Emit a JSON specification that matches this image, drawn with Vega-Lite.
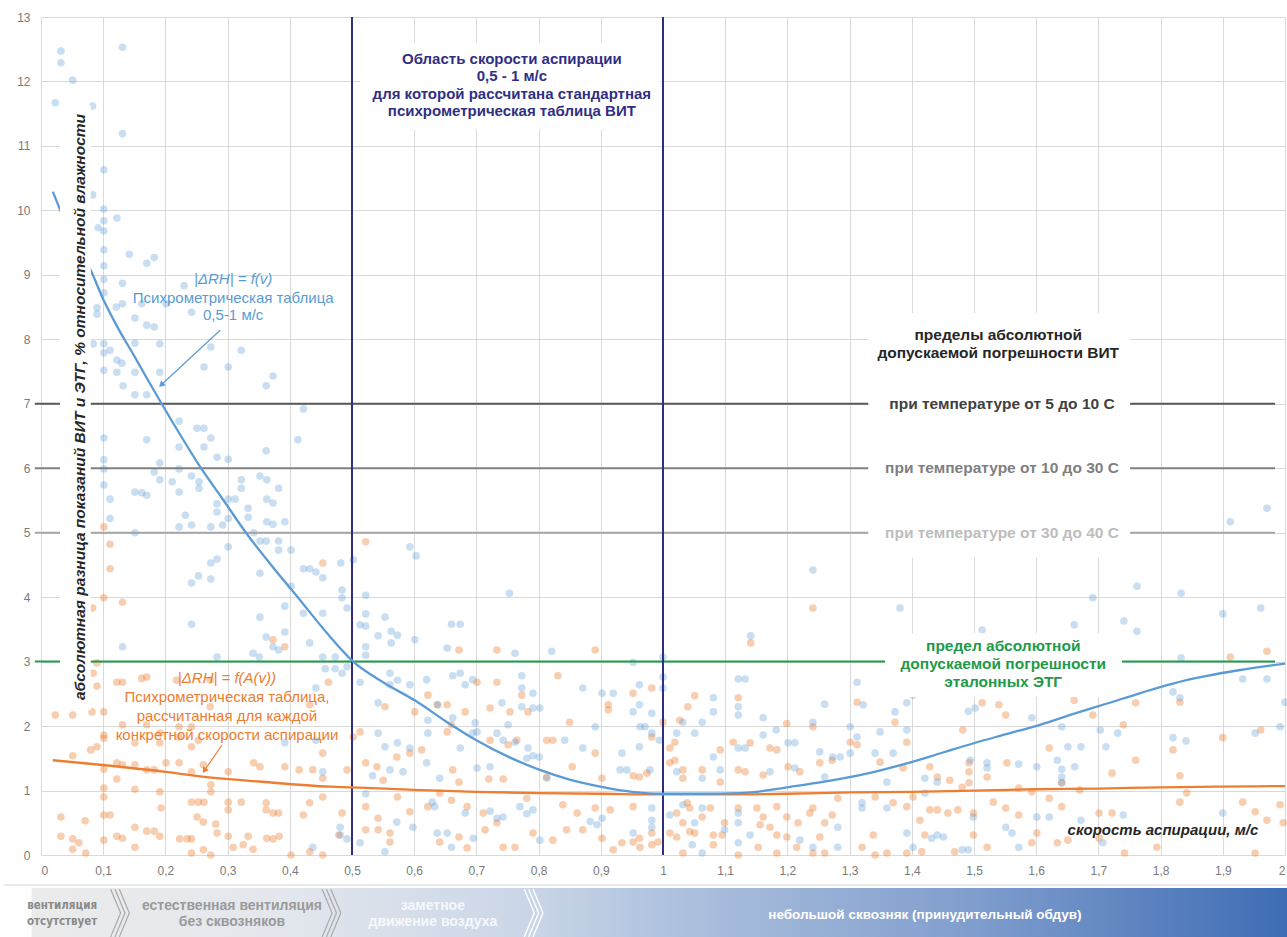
{
 "$schema": "https://vega.github.io/schema/vega-lite/v6.json",
 "width": 1244,
 "height": 838,
 "autosize": "none",
 "padding": {"left": 41, "top": 17, "right": 2, "bottom": 82},
 "background": "white",
 "config": {"view": {"stroke": null}, "font": "Liberation Sans"},
 "datasets": {
  "blue": [
   {"x":0.023,"y":11.67},{"x":0.032,"y":12.47},{"x":0.032,"y":12.29},{"x":0.051,"y":12.02},{"x":0.083,"y":11.62},{"x":0.131,"y":12.53},{"x":0.131,"y":11.19},{"x":0.101,"y":10.63},{"x":0.083,"y":10.24},{"x":0.101,"y":10.02},{"x":0.101,"y":9.84},{"x":0.122,"y":9.88},{"x":0.092,"y":9.73},{"x":0.101,"y":9.68},{"x":0.101,"y":9.39},{"x":0.142,"y":9.32},{"x":0.170,"y":9.18},{"x":0.182,"y":9.27},{"x":0.101,"y":9.14},{"x":0.101,"y":8.93},{"x":0.131,"y":8.87},{"x":0.230,"y":8.83},{"x":0.101,"y":8.72},{"x":0.090,"y":8.49},{"x":0.090,"y":8.39},{"x":0.131,"y":8.55},{"x":0.121,"y":8.50},{"x":0.162,"y":8.55},{"x":0.151,"y":8.33},{"x":0.201,"y":8.55},{"x":0.242,"y":8.42},{"x":0.170,"y":8.22},{"x":0.182,"y":8.19},
   {"x":0.084,"y":7.93},{"x":0.101,"y":7.93},{"x":0.101,"y":7.79},{"x":0.111,"y":7.83},{"x":0.122,"y":7.68},{"x":0.130,"y":7.63},{"x":0.122,"y":7.49},{"x":0.101,"y":7.52},{"x":0.151,"y":7.94},{"x":0.151,"y":7.49},{"x":0.132,"y":7.28},{"x":0.151,"y":7.14},{"x":0.170,"y":7.14},{"x":0.191,"y":7.93},{"x":0.191,"y":7.49},{"x":0.273,"y":7.88},{"x":0.262,"y":7.57},{"x":0.301,"y":7.57},{"x":0.322,"y":7.83},{"x":0.362,"y":7.28},{"x":0.373,"y":7.43},{"x":0.422,"y":6.92},{"x":0.222,"y":6.73},{"x":0.251,"y":6.62},{"x":0.262,"y":6.62},{"x":0.273,"y":6.47},{"x":0.170,"y":6.44},{"x":0.101,"y":6.47},{"x":0.222,"y":6.33},{"x":0.262,"y":6.33},{"x":0.283,"y":6.17},{"x":0.301,"y":6.14},{"x":0.362,"y":6.27},{"x":0.413,"y":6.44},{"x":0.101,"y":6.13},{"x":0.101,"y":5.99},{"x":0.191,"y":6.08},{"x":0.182,"y":5.94},{"x":0.191,"y":5.82},{"x":0.211,"y":5.79},{"x":0.222,"y":5.99},{"x":0.242,"y":5.88},{"x":0.254,"y":5.79},{"x":0.254,"y":5.69},{"x":0.322,"y":5.82},{"x":0.322,"y":5.69},{"x":0.352,"y":5.88},{"x":0.363,"y":5.82},{"x":0.382,"y":5.69},{"x":0.101,"y":5.74},{"x":0.151,"y":5.63},{"x":0.162,"y":5.62},{"x":0.170,"y":5.58},{"x":0.111,"y":5.52},{"x":0.222,"y":5.63},{"x":0.283,"y":5.45},{"x":0.283,"y":5.32},{"x":0.301,"y":5.52},{"x":0.312,"y":5.52},{"x":0.363,"y":5.52},{"x":0.373,"y":5.46},{"x":0.232,"y":5.27},{"x":0.111,"y":5.22},{"x":0.301,"y":5.22},{"x":0.333,"y":5.38},{"x":0.333,"y":5.24},{"x":0.363,"y":5.17},{"x":0.373,"y":5.13},{"x":0.392,"y":5.17},{"x":0.222,"y":5.09},{"x":0.242,"y":5.12},{"x":0.273,"y":5.09},{"x":0.292,"y":5.12},{"x":0.342,"y":5.0},{"x":0.151,"y":5.0},{"x":0.352,"y":4.87},{"x":0.362,"y":4.87},{"x":0.382,"y":4.87},{"x":0.382,"y":4.73},{"x":0.402,"y":4.73},{"x":0.301,"y":4.78},{"x":0.273,"y":4.53},{"x":0.283,"y":4.59},{"x":0.422,"y":4.44},{"x":0.432,"y":4.44},{"x":0.442,"y":4.39},{"x":0.453,"y":4.30},{"x":0.352,"y":4.37},{"x":0.402,"y":4.17},{"x":0.253,"y":4.33},{"x":0.242,"y":4.22},{"x":0.273,"y":4.28},
   {"x":0.242,"y":3.58},{"x":0.131,"y":3.23},{"x":0.352,"y":3.69},{"x":0.392,"y":3.86},{"x":0.392,"y":3.46},{"x":0.422,"y":3.75},{"x":0.453,"y":3.75},{"x":0.362,"y":3.38},{"x":0.373,"y":3.23},{"x":0.382,"y":3.18},{"x":0.341,"y":3.13},{"x":0.351,"y":3.07},{"x":0.432,"y":3.29},{"x":0.453,"y":3.07},{"x":0.283,"y":3.07},{"x":0.442,"y":2.59},{"x":0.457,"y":2.89},{"x":0.392,"y":1.74},{"x":0.442,"y":1.78},{"x":0.453,"y":1.29},{"x":0.437,"y":0.12},
   {"x":0.593,"y":4.78},{"x":0.603,"y":4.64},{"x":0.502,"y":4.58},{"x":0.482,"y":4.53},{"x":0.484,"y":4.11},{"x":0.484,"y":3.99},{"x":0.492,"y":3.83},{"x":0.522,"y":4.03},{"x":0.522,"y":3.74},{"x":0.513,"y":3.57},{"x":0.522,"y":3.55},{"x":0.542,"y":3.40},{"x":0.553,"y":3.69},{"x":0.563,"y":3.47},{"x":0.573,"y":3.41},{"x":0.601,"y":3.34},{"x":0.563,"y":3.29},{"x":0.522,"y":3.23},{"x":0.522,"y":3.10},{"x":0.653,"y":3.21},{"x":0.660,"y":3.58},{"x":0.674,"y":3.58},{"x":0.753,"y":4.06},{"x":0.762,"y":3.13},{"x":0.821,"y":3.16},{"x":0.473,"y":3.07},{"x":0.473,"y":2.89},{"x":0.484,"y":2.82},{"x":0.492,"y":2.92},{"x":0.513,"y":2.68},{"x":0.561,"y":2.82},{"x":0.573,"y":2.71},{"x":0.561,"y":2.64},{"x":0.593,"y":2.64},{"x":0.620,"y":2.72},{"x":0.662,"y":2.78},{"x":0.674,"y":2.82},{"x":0.682,"y":2.64},{"x":0.694,"y":2.72},{"x":0.773,"y":2.78},{"x":0.773,"y":2.59},{"x":0.791,"y":2.51},{"x":0.871,"y":2.59},{"x":0.902,"y":2.51},{"x":0.920,"y":2.51},{"x":0.952,"y":2.99},{"x":0.962,"y":2.64},{"x":0.952,"y":2.22},{"x":0.962,"y":2.33},{"x":0.982,"y":2.20},{"x":1.0,"y":3.07},{"x":1.0,"y":2.76},{"x":1.0,"y":2.59},{"x":0.542,"y":2.36},{"x":0.622,"y":2.09},{"x":0.638,"y":2.33},{"x":0.662,"y":2.13},{"x":0.698,"y":2.05},{"x":0.701,"y":1.91},{"x":0.741,"y":2.36},{"x":0.751,"y":2.02},{"x":0.773,"y":2.30},{"x":0.791,"y":2.28},{"x":0.802,"y":2.28},{"x":0.542,"y":1.89},{"x":0.553,"y":1.68},{"x":0.573,"y":1.74},{"x":0.593,"y":1.66},{"x":0.622,"y":1.89},{"x":0.674,"y":1.66},{"x":0.694,"y":1.89},{"x":0.733,"y":1.89},{"x":0.743,"y":1.78},{"x":0.762,"y":1.75},{"x":0.783,"y":1.66},{"x":0.801,"y":1.52},{"x":0.842,"y":1.78},{"x":0.871,"y":1.66},{"x":0.891,"y":1.99},{"x":0.934,"y":1.58},{"x":0.962,"y":1.68},{"x":0.982,"y":1.89},{"x":0.994,"y":1.78},{"x":0.533,"y":1.23},{"x":0.522,"y":0.95},{"x":0.561,"y":1.32},{"x":0.582,"y":1.29},{"x":0.620,"y":1.43},{"x":0.641,"y":1.19},{"x":0.701,"y":1.35},{"x":0.722,"y":1.37},{"x":0.781,"y":1.50},{"x":0.791,"y":1.54},{"x":0.813,"y":1.19},{"x":0.722,"y":0.68},{"x":0.733,"y":0.57},{"x":0.743,"y":0.59},{"x":0.770,"y":0.75},{"x":0.781,"y":0.64},{"x":0.791,"y":0.70},{"x":0.883,"y":0.52},{"x":0.894,"y":0.47},{"x":0.902,"y":0.57},{"x":0.931,"y":1.32},{"x":0.942,"y":1.32},{"x":0.979,"y":1.32},{"x":0.982,"y":0.73},{"x":0.952,"y":0.34},{"x":0.629,"y":0.82},{"x":0.633,"y":0.75},{"x":0.682,"y":0.65},{"x":0.637,"y":0.34},{"x":0.653,"y":0.34},{"x":0.660,"y":0.12},{"x":0.695,"y":0.26},{"x":0.802,"y":0.23},{"x":0.598,"y":0.43},{"x":0.572,"y":0.51},{"x":0.553,"y":0.05},{"x":0.481,"y":0.31},{"x":0.492,"y":0.25},{"x":0.481,"y":0.43},{"x":0.513,"y":0.19},
   {"x":1.241,"y":4.42},{"x":1.381,"y":3.83},{"x":1.141,"y":3.40},{"x":1.121,"y":2.73},{"x":1.132,"y":2.73},{"x":1.312,"y":2.68},{"x":1.402,"y":2.48},{"x":1.392,"y":2.36},{"x":1.260,"y":2.34},{"x":1.081,"y":2.44},{"x":1.081,"y":2.22},{"x":1.121,"y":2.30},{"x":1.121,"y":2.17},{"x":1.161,"y":2.13},{"x":1.241,"y":2.06},{"x":1.322,"y":2.33},{"x":1.373,"y":2.22},{"x":1.063,"y":2.06},{"x":1.032,"y":2.06},{"x":0.963,"y":1.99},{"x":0.971,"y":1.99},{"x":1.022,"y":1.89},{"x":1.051,"y":1.89},{"x":1.161,"y":1.86},{"x":1.182,"y":1.94},{"x":1.201,"y":1.74},{"x":1.212,"y":1.74},{"x":1.301,"y":1.99},{"x":1.312,"y":1.83},{"x":1.349,"y":1.91},{"x":1.392,"y":1.94},{"x":1.121,"y":1.66},{"x":1.132,"y":1.66},{"x":1.081,"y":1.52},{"x":1.092,"y":1.32},{"x":1.252,"y":1.60},{"x":1.273,"y":1.52},{"x":1.285,"y":1.52},{"x":1.301,"y":1.58},{"x":1.341,"y":1.58},{"x":1.370,"y":1.58},{"x":1.022,"y":1.29},{"x":1.063,"y":1.19},{"x":1.172,"y":1.29},{"x":1.212,"y":1.35},{"x":1.260,"y":1.21},{"x":1.360,"y":1.13},{"x":1.421,"y":1.19},{"x":1.441,"y":1.13},{"x":1.011,"y":0.62},{"x":1.032,"y":0.78},{"x":1.063,"y":0.73},{"x":0.982,"y":0.54},{"x":0.982,"y":0.43},{"x":1.051,"y":0.50},{"x":1.099,"y":0.39},{"x":1.121,"y":0.65},{"x":1.121,"y":0.50},{"x":1.140,"y":0.31},{"x":1.121,"y":0.19},{"x":1.047,"y":0.16},{"x":1.063,"y":0.03},{"x":1.220,"y":0.23},{"x":1.241,"y":0.12},{"x":1.281,"y":0.43},{"x":1.281,"y":0.12},{"x":1.320,"y":0.81},{"x":1.320,"y":0.73},{"x":1.360,"y":0.73},{"x":1.392,"y":0.34},{"x":1.402,"y":0.12},{"x":1.432,"y":0.26},{"x":1.441,"y":0.31},{"x":1.451,"y":0.28},{"x":1.421,"y":0.96},{"x":1.481,"y":0.08},{"x":1.491,"y":0.08},
   {"x":1.912,"y":5.17},{"x":1.971,"y":5.38},{"x":1.762,"y":4.17},{"x":1.833,"y":4.06},{"x":1.691,"y":3.99},{"x":1.900,"y":3.74},{"x":1.961,"y":3.83},{"x":1.661,"y":3.57},{"x":1.741,"y":3.63},{"x":1.762,"y":3.47},{"x":1.513,"y":3.49},{"x":1.833,"y":3.06},{"x":1.932,"y":2.73},{"x":1.971,"y":2.73},{"x":2.0,"y":2.37},{"x":1.491,"y":2.23},{"x":1.502,"y":2.28},{"x":1.820,"y":2.53},{"x":1.831,"y":2.44},{"x":1.593,"y":2.13},{"x":1.641,"y":1.99},{"x":1.703,"y":1.94},{"x":1.731,"y":1.89},{"x":1.952,"y":1.89},{"x":1.992,"y":1.99},{"x":1.820,"y":1.82},{"x":1.841,"y":1.77},{"x":1.651,"y":1.68},{"x":1.672,"y":1.68},{"x":1.712,"y":1.68},{"x":1.494,"y":1.47},{"x":1.521,"y":1.43},{"x":1.572,"y":1.41},{"x":1.521,"y":1.35},{"x":1.634,"y":1.47},{"x":1.601,"y":1.37},{"x":1.662,"y":1.37},{"x":1.641,"y":1.33},{"x":1.641,"y":1.21},{"x":1.641,"y":1.12},{"x":1.499,"y":0.59},{"x":1.601,"y":0.59},{"x":1.621,"y":0.59},{"x":1.740,"y":0.62},{"x":1.900,"y":0.65},{"x":1.561,"y":0.34},{"x":1.551,"y":0.43},{"x":1.672,"y":0.54},{"x":1.572,"y":0.12},{"x":1.707,"y":0.19}
  ],
  "orange": [
   {"x":0.101,"y":5.09},{"x":0.111,"y":4.82},{"x":0.111,"y":4.44},{"x":0.453,"y":4.53},
   {"x":0.101,"y":3.99},{"x":0.131,"y":3.92},{"x":0.083,"y":3.83},{"x":0.373,"y":3.34},{"x":0.392,"y":3.23},{"x":0.090,"y":2.98},{"x":0.084,"y":2.82},{"x":0.090,"y":2.62},{"x":0.122,"y":2.68},{"x":0.131,"y":2.68},{"x":0.162,"y":2.74},{"x":0.170,"y":2.76},{"x":0.218,"y":2.71},{"x":0.272,"y":2.71},{"x":0.023,"y":2.17},{"x":0.051,"y":2.17},{"x":0.082,"y":2.22},{"x":0.101,"y":2.22},{"x":0.131,"y":2.02},{"x":0.170,"y":2.02},{"x":0.191,"y":1.89},{"x":0.222,"y":1.99},{"x":0.242,"y":1.99},{"x":0.272,"y":2.30},{"x":0.101,"y":1.86},{"x":0.101,"y":1.81},{"x":0.151,"y":1.74},{"x":0.191,"y":1.74},{"x":0.222,"y":1.83},{"x":0.242,"y":1.68},{"x":0.253,"y":1.78},{"x":0.051,"y":1.54},{"x":0.080,"y":1.63},{"x":0.090,"y":1.68},{"x":0.122,"y":1.43},{"x":0.131,"y":1.40},{"x":0.151,"y":1.40},{"x":0.170,"y":1.32},{"x":0.182,"y":1.32},{"x":0.201,"y":1.43},{"x":0.222,"y":1.43},{"x":0.242,"y":1.29},{"x":0.261,"y":1.40},{"x":0.301,"y":1.29},{"x":0.342,"y":1.43},{"x":0.352,"y":1.37},{"x":0.392,"y":1.37},{"x":0.415,"y":1.32},{"x":0.101,"y":1.33},{"x":0.101,"y":1.04},{"x":0.101,"y":0.90},{"x":0.122,"y":1.18},{"x":0.151,"y":1.02},{"x":0.191,"y":0.98},{"x":0.242,"y":0.82},{"x":0.253,"y":0.82},{"x":0.262,"y":0.82},{"x":0.273,"y":0.98},{"x":0.273,"y":1.09},{"x":0.301,"y":0.82},{"x":0.322,"y":0.82},{"x":0.362,"y":0.81},{"x":0.362,"y":0.70},{"x":0.373,"y":0.65},{"x":0.382,"y":0.65},{"x":0.422,"y":0.62},{"x":0.432,"y":0.81},{"x":0.111,"y":0.62},{"x":0.101,"y":0.62},{"x":0.032,"y":0.59},{"x":0.071,"y":0.53},{"x":0.193,"y":0.73},{"x":0.251,"y":0.59},{"x":0.261,"y":0.51},{"x":0.281,"y":0.48},{"x":0.301,"y":0.70},{"x":0.283,"y":0.34},{"x":0.301,"y":0.29},{"x":0.333,"y":0.29},{"x":0.363,"y":0.26},{"x":0.383,"y":0.29},{"x":0.151,"y":0.43},{"x":0.170,"y":0.37},{"x":0.182,"y":0.37},{"x":0.191,"y":0.29},{"x":0.122,"y":0.29},{"x":0.131,"y":0.26},{"x":0.032,"y":0.29},{"x":0.051,"y":0.25},{"x":0.061,"y":0.19},{"x":0.101,"y":0.23},{"x":0.151,"y":0.12},{"x":0.223,"y":0.25},{"x":0.235,"y":0.25},{"x":0.242,"y":0.25},{"x":0.261,"y":0.08},{"x":0.309,"y":0.12},{"x":0.325,"y":0.16},{"x":0.341,"y":0.09},{"x":0.373,"y":0.25},{"x":0.402,"y":0.0},{"x":0.432,"y":0.05},{"x":0.453,"y":0.0},{"x":0.051,"y":0.09},{"x":0.072,"y":0.03},{"x":0.242,"y":0.03},{"x":0.273,"y":0.0},{"x":0.453,"y":0.90},{"x":0.453,"y":1.19},{"x":0.453,"y":1.58},{"x":0.432,"y":2.33},
   {"x":0.522,"y":4.86},{"x":0.672,"y":3.18},{"x":0.733,"y":3.18},{"x":0.891,"y":3.18},{"x":0.831,"y":2.78},{"x":0.462,"y":2.68},{"x":0.622,"y":2.48},{"x":0.701,"y":2.68},{"x":0.733,"y":2.68},{"x":0.773,"y":2.48},{"x":0.952,"y":2.51},{"x":0.982,"y":2.59},{"x":0.553,"y":2.30},{"x":0.637,"y":2.33},{"x":0.653,"y":2.33},{"x":0.601,"y":2.22},{"x":0.682,"y":2.22},{"x":0.722,"y":2.28},{"x":0.754,"y":2.22},{"x":0.783,"y":2.22},{"x":0.912,"y":2.33},{"x":0.912,"y":2.25},{"x":0.982,"y":1.83},{"x":1.011,"y":1.66},{"x":1.027,"y":2.09},{"x":0.502,"y":1.83},{"x":0.513,"y":1.91},{"x":0.492,"y":1.32},{"x":0.522,"y":1.43},{"x":0.437,"y":1.32},{"x":0.572,"y":1.52},{"x":0.593,"y":1.58},{"x":0.612,"y":1.63},{"x":0.653,"y":1.91},{"x":0.660,"y":2.02},{"x":0.722,"y":1.78},{"x":0.751,"y":1.71},{"x":0.765,"y":1.78},{"x":0.813,"y":1.78},{"x":0.823,"y":1.78},{"x":0.850,"y":2.06},{"x":0.891,"y":1.58},{"x":1.032,"y":1.32},{"x":0.540,"y":1.37},{"x":0.662,"y":1.32},{"x":0.550,"y":1.16},{"x":0.672,"y":1.13},{"x":0.720,"y":1.18},{"x":0.743,"y":1.18},{"x":0.813,"y":1.21},{"x":0.854,"y":1.37},{"x":0.902,"y":1.19},{"x":0.952,"y":1.23},{"x":0.962,"y":1.21},{"x":0.974,"y":1.27},{"x":1.011,"y":1.43},{"x":0.522,"y":0.75},{"x":0.573,"y":0.90},{"x":0.622,"y":0.75},{"x":0.641,"y":0.96},{"x":0.660,"y":0.85},{"x":0.685,"y":0.75},{"x":0.711,"y":0.65},{"x":0.781,"y":0.88},{"x":0.839,"y":0.78},{"x":0.862,"y":0.65},{"x":0.891,"y":0.73},{"x":0.915,"y":0.70},{"x":0.952,"y":0.75},{"x":1.022,"y":0.65},{"x":1.039,"y":0.81},{"x":0.484,"y":0.65},{"x":0.542,"y":0.57},{"x":0.593,"y":0.67},{"x":0.479,"y":0.31},{"x":0.522,"y":0.39},{"x":0.542,"y":0.39},{"x":0.561,"y":0.20},{"x":0.561,"y":0.34},{"x":0.641,"y":0.20},{"x":0.672,"y":0.28},{"x":0.685,"y":0.11},{"x":0.714,"y":0.39},{"x":0.733,"y":0.50},{"x":0.743,"y":0.12},{"x":0.762,"y":0.12},{"x":0.791,"y":0.34},{"x":0.823,"y":0.23},{"x":0.845,"y":0.39},{"x":0.871,"y":0.39},{"x":0.902,"y":0.26},{"x":0.920,"y":0.08},{"x":0.934,"y":0.19},{"x":0.952,"y":0.20},{"x":0.962,"y":0.26},{"x":0.982,"y":0.34},{"x":0.982,"y":0.16},{"x":0.992,"y":0.20},{"x":1.011,"y":0.34},{"x":1.032,"y":0.50},{"x":1.043,"y":0.36},{"x":1.022,"y":0.28},
   {"x":1.241,"y":3.83},{"x":1.141,"y":3.29},{"x":1.051,"y":2.47},{"x":1.040,"y":2.30},{"x":1.121,"y":2.44},{"x":1.0,"y":2.06},{"x":1.312,"y":2.37},{"x":1.373,"y":2.06},{"x":1.241,"y":1.99},{"x":1.199,"y":2.04},{"x":1.301,"y":1.75},{"x":1.312,"y":1.71},{"x":1.392,"y":1.75},{"x":1.349,"y":1.44},{"x":1.113,"y":1.75},{"x":1.092,"y":1.63},{"x":1.019,"y":1.75},{"x":1.019,"y":1.47},{"x":1.140,"y":1.74},{"x":1.172,"y":1.66},{"x":1.183,"y":1.63},{"x":1.252,"y":1.43},{"x":1.272,"y":1.47},{"x":1.220,"y":1.29},{"x":1.201,"y":1.37},{"x":1.161,"y":1.24},{"x":1.121,"y":1.32},{"x":1.132,"y":1.29},{"x":1.063,"y":1.32},{"x":1.092,"y":1.13},{"x":1.032,"y":1.19},{"x":1.386,"y":1.35},{"x":1.429,"y":1.37},{"x":1.461,"y":1.16},{"x":1.481,"y":1.05},{"x":1.441,"y":1.21},{"x":1.281,"y":0.88},{"x":1.241,"y":0.73},{"x":1.272,"y":0.62},{"x":1.341,"y":0.90},{"x":1.370,"y":0.81},{"x":1.392,"y":0.75},{"x":1.402,"y":0.90},{"x":1.413,"y":0.54},{"x":1.429,"y":0.70},{"x":1.441,"y":0.70},{"x":1.458,"y":0.65},{"x":1.474,"y":0.70},{"x":1.043,"y":0.73},{"x":1.063,"y":0.59},{"x":1.076,"y":0.73},{"x":1.099,"y":0.50},{"x":1.121,"y":0.73},{"x":1.151,"y":0.73},{"x":1.161,"y":0.59},{"x":1.183,"y":0.75},{"x":1.199,"y":0.59},{"x":1.236,"y":0.65},{"x":1.217,"y":0.50},{"x":1.260,"y":0.50},{"x":1.156,"y":0.47},{"x":1.172,"y":0.43},{"x":1.051,"y":0.34},{"x":1.081,"y":0.31},{"x":1.095,"y":0.31},{"x":1.183,"y":0.31},{"x":1.199,"y":0.28},{"x":1.252,"y":0.28},{"x":1.338,"y":0.31},{"x":1.421,"y":0.31},{"x":0.963,"y":0.12},{"x":1.032,"y":0.03},{"x":1.081,"y":0.16},{"x":1.121,"y":0.0},{"x":1.153,"y":0.12},{"x":1.183,"y":0.03},{"x":1.215,"y":0.12},{"x":1.241,"y":0.03},{"x":1.260,"y":0.03},{"x":1.320,"y":0.12},{"x":1.341,"y":0.0},{"x":1.360,"y":0.03},{"x":1.392,"y":0.03},{"x":1.416,"y":0.05},{"x":1.469,"y":0.05},
   {"x":1.971,"y":3.16},{"x":1.912,"y":3.07},{"x":1.661,"y":2.40},{"x":1.513,"y":2.36},{"x":1.540,"y":2.33},{"x":1.551,"y":2.17},{"x":1.760,"y":2.36},{"x":1.691,"y":2.17},{"x":1.740,"y":2.02},{"x":1.831,"y":2.37},{"x":1.961,"y":1.94},{"x":1.482,"y":1.94},{"x":1.621,"y":1.66},{"x":1.820,"y":1.63},{"x":1.900,"y":1.82},{"x":1.760,"y":1.47},{"x":1.722,"y":1.27},{"x":1.831,"y":1.23},{"x":1.553,"y":1.43},{"x":1.492,"y":1.43},{"x":1.492,"y":1.29},{"x":1.521,"y":1.21},{"x":1.492,"y":1.12},{"x":1.572,"y":1.04},{"x":1.593,"y":0.98},{"x":1.641,"y":1.12},{"x":1.670,"y":1.01},{"x":1.842,"y":0.96},{"x":1.932,"y":0.82},{"x":1.992,"y":0.78},{"x":1.952,"y":0.67},{"x":1.831,"y":0.82},{"x":1.531,"y":0.82},{"x":1.551,"y":0.73},{"x":1.572,"y":0.62},{"x":1.621,"y":0.88},{"x":1.641,"y":0.75},{"x":1.701,"y":0.65},{"x":1.722,"y":0.65},{"x":1.499,"y":0.65},{"x":1.499,"y":0.31},{"x":1.521,"y":0.12},{"x":1.593,"y":0.19},{"x":1.601,"y":0.34},{"x":1.634,"y":0.19},{"x":1.651,"y":0.23},{"x":1.701,"y":0.26},{"x":1.742,"y":0.03},{"x":1.794,"y":0.12},{"x":1.952,"y":0.03},{"x":1.971,"y":0.54},{"x":1.997,"y":0.50}
  ],
  "curveBlue": [
   {"x":0.019,"y":10.29},{"x":0.029,"y":10.05},{"x":0.05,"y":9.55},{"x":0.08,"y":9.07},{"x":0.1,"y":8.62},{"x":0.124,"y":8.17},{"x":0.15,"y":7.74},{"x":0.17,"y":7.4},{"x":0.194,"y":7.0},{"x":0.225,"y":6.5},{"x":0.256,"y":6.02},{"x":0.29,"y":5.55},{"x":0.331,"y":4.98},{"x":0.37,"y":4.5},{"x":0.416,"y":3.96},{"x":0.46,"y":3.44},{"x":0.502,"y":3.0},{"x":0.55,"y":2.68},{"x":0.604,"y":2.38},{"x":0.65,"y":2.08},{"x":0.7,"y":1.78},{"x":0.75,"y":1.53},{"x":0.802,"y":1.32},{"x":0.85,"y":1.17},{"x":0.899,"y":1.06},{"x":0.95,"y":0.98},{"x":1.0,"y":0.95},{"x":1.05,"y":0.95},{"x":1.124,"y":0.96},{"x":1.2,"y":1.05},{"x":1.241,"y":1.11},{"x":1.285,"y":1.18},{"x":1.34,"y":1.29},{"x":1.392,"y":1.42},{"x":1.45,"y":1.59},{"x":1.498,"y":1.73},{"x":1.55,"y":1.87},{"x":1.606,"y":2.02},{"x":1.66,"y":2.19},{"x":1.714,"y":2.35},{"x":1.77,"y":2.52},{"x":1.82,"y":2.66},{"x":1.87,"y":2.77},{"x":1.928,"y":2.87},{"x":1.97,"y":2.93},{"x":2.0,"y":2.97}
  ],
  "curveOrange": [
   {"x":0.019,"y":1.47},{"x":0.095,"y":1.4},{"x":0.2,"y":1.29},{"x":0.256,"y":1.22},{"x":0.35,"y":1.14},{"x":0.465,"y":1.06},{"x":0.5,"y":1.05},{"x":0.6,"y":1.01},{"x":0.7,"y":0.98},{"x":0.8,"y":0.96},{"x":0.9,"y":0.95},{"x":1.0,"y":0.94},{"x":1.1,"y":0.94},{"x":1.2,"y":0.95},{"x":1.3,"y":0.97},{"x":1.4,"y":0.98},{"x":1.5,"y":1.0},{"x":1.6,"y":1.02},{"x":1.7,"y":1.03},{"x":1.8,"y":1.05},{"x":1.9,"y":1.06},{"x":2.0,"y":1.07}
  ],
  "hlines": [
   {"k":"t5","y":7,"x1":-0.01,"x2":1.984},
   {"k":"t10","y":6,"x1":-0.01,"x2":1.984},
   {"k":"t30","y":5,"x1":-0.01,"x2":1.984},
   {"k":"etg","y":3,"x1":-0.01,"x2":1.984}
  ],
  "boxes": [
   {"x1":0.0305,"x2":0.080,"y1":2.25,"y2":11.63},
   {"x1":0.513,"x2":0.995,"y1":11.25,"y2":12.61},
   {"x1":1.33,"x2":1.751,"y1":4.61,"y2":8.41},
   {"x1":1.357,"x2":1.738,"y1":2.45,"y2":3.44}
  ],
  "chevrons": [
   {"c":"g","id":"1a","o":1,"x":0.112,"y":-0.53},{"c":"g","id":"1a","o":2,"x":0.128,"y":-0.9},{"c":"g","id":"1a","o":3,"x":0.112,"y":-1.27},
   {"c":"g","id":"1b","o":1,"x":0.119,"y":-0.53},{"c":"g","id":"1b","o":2,"x":0.135,"y":-0.9},{"c":"g","id":"1b","o":3,"x":0.119,"y":-1.27},
   {"c":"g","id":"1c","o":1,"x":0.126,"y":-0.53},{"c":"g","id":"1c","o":2,"x":0.142,"y":-0.9},{"c":"g","id":"1c","o":3,"x":0.126,"y":-1.27},
   {"c":"g","id":"2a","o":1,"x":0.452,"y":-0.53},{"c":"g","id":"2a","o":2,"x":0.468,"y":-0.9},{"c":"g","id":"2a","o":3,"x":0.452,"y":-1.27},
   {"c":"g","id":"2b","o":1,"x":0.459,"y":-0.53},{"c":"g","id":"2b","o":2,"x":0.475,"y":-0.9},{"c":"g","id":"2b","o":3,"x":0.459,"y":-1.27},
   {"c":"g","id":"2c","o":1,"x":0.466,"y":-0.53},{"c":"g","id":"2c","o":2,"x":0.482,"y":-0.9},{"c":"g","id":"2c","o":3,"x":0.466,"y":-1.27},
   {"c":"w","id":"3a","o":1,"x":0.777,"y":-0.53},{"c":"w","id":"3a","o":2,"x":0.793,"y":-0.9},{"c":"w","id":"3a","o":3,"x":0.777,"y":-1.27},
   {"c":"w","id":"3b","o":1,"x":0.784,"y":-0.53},{"c":"w","id":"3b","o":2,"x":0.8,"y":-0.9},{"c":"w","id":"3b","o":3,"x":0.784,"y":-1.27},
   {"c":"w","id":"3c","o":1,"x":0.791,"y":-0.53},{"c":"w","id":"3c","o":2,"x":0.807,"y":-0.9},{"c":"w","id":"3c","o":3,"x":0.791,"y":-1.27}
  ]
 },
 "layer": [
  {
   "data": {"values": [{"x1": -0.015, "x2": 2.01, "y1": -0.51, "y2": -1.32}]},
   "mark": {"type": "rect", "fill": {"gradient": "linear", "x1": 0, "y1": 0, "x2": 1, "y2": 0, "stops": [{"offset": 0, "color": "#ebebeb"}, {"offset": 0.2, "color": "#e3e7ed"}, {"offset": 0.4, "color": "#c9d5e7"}, {"offset": 0.5, "color": "#b0c3df"}, {"offset": 0.75, "color": "#7f9dcd"}, {"offset": 1, "color": "#3d6cb4"}]}},
   "encoding": {
    "x": {"field": "x1", "type": "quantitative", "scale": {"domain": [0, 2], "nice": false, "zero": false},
     "axis": {"values": [0,0.1,0.2,0.3,0.4,0.5,0.6,0.7,0.8,0.9,1,1.1,1.2,1.3,1.4,1.5,1.6,1.7,1.8,1.9,2], "labelExpr": "replace(format(datum.value, '.1~f'), '.', ',')", "title": null, "ticks": false, "domain": false, "grid": true, "gridColor": "#d9d9d9", "gridWidth": 1, "labelFont": "Liberation Sans", "labelFontSize": 12, "labelColor": "#7a7a7a", "labelPadding": 10, "labelFlush": true, "labelOverlap": false}},
    "x2": {"field": "x2"},
    "y": {"field": "y1", "type": "quantitative", "scale": {"domain": [0, 13], "nice": false, "zero": false},
     "axis": {"values": [0,1,2,3,4,5,6,7,8,9,10,11,12,13], "format": "d", "title": null, "ticks": false, "domain": false, "grid": true, "gridColor": "#d9d9d9", "gridWidth": 1, "labelFont": "Liberation Sans", "labelFontSize": 12, "labelColor": "#7a7a7a", "labelPadding": 11, "labelFlush": false, "labelOverlap": false}},
    "y2": {"field": "y2"}
   }
  },
  {
   "data": {"values": [{"x1": -0.06, "x2": 2.01, "y": -0.465}]},
   "mark": {"type": "rule", "color": "#d4d4d4", "strokeWidth": 1},
   "encoding": {"x": {"field": "x1", "type": "quantitative", "title": null}, "x2": {"field": "x2"}, "y": {"field": "y", "type": "quantitative", "title": null}}
  },
  {
   "data": {"name": "chevrons"},
   "transform": [{"filter": "datum.c === 'g'"}],
   "mark": {"type": "line", "color": "#a9a9a9", "strokeWidth": 1.2},
   "encoding": {"x": {"field": "x", "type": "quantitative", "title": null}, "y": {"field": "y", "type": "quantitative", "title": null}, "detail": {"field": "id"}, "order": {"field": "o"}}
  },
  {
   "data": {"name": "chevrons"},
   "transform": [{"filter": "datum.c === 'w'"}],
   "mark": {"type": "line", "color": "#ffffff", "strokeWidth": 1.4},
   "encoding": {"x": {"field": "x", "type": "quantitative", "title": null}, "y": {"field": "y", "type": "quantitative", "title": null}, "detail": {"field": "id"}, "order": {"field": "o"}}
  },
  {
   "data": {"values": [{"x": 0.034, "y": -0.79, "t": "вентиляция\nотсутствует"}]},
   "mark": {"type": "text", "font": "Liberation Sans Narrow, DejaVu Sans Condensed, Liberation Sans", "fontWeight": "bold", "fontSize": 11.5, "color": "#8a8a8a", "lineBreak": "\n", "lineHeight": 16.5, "align": "center", "baseline": "middle"},
   "encoding": {"x": {"field": "x", "type": "quantitative", "title": null}, "y": {"field": "y", "type": "quantitative", "title": null}, "text": {"field": "t"}}
  },
  {
   "data": {"values": [{"x": 0.307, "y": -0.79, "t": "естественная вентиляция\nбез сквозняков"}]},
   "mark": {"type": "text", "fontWeight": "bold", "fontSize": 14, "color": "#9a9a9a", "lineBreak": "\n", "lineHeight": 16.5, "align": "center", "baseline": "middle"},
   "encoding": {"x": {"field": "x", "type": "quantitative", "title": null}, "y": {"field": "y", "type": "quantitative", "title": null}, "text": {"field": "t"}}
  },
  {
   "data": {"values": [{"x": 0.63, "y": -0.79, "t": "заметное\nдвижение воздуха"}]},
   "mark": {"type": "text", "fontWeight": "bold", "fontSize": 14, "color": "#f6f8fc", "lineBreak": "\n", "lineHeight": 16.5, "align": "center", "baseline": "middle"},
   "encoding": {"x": {"field": "x", "type": "quantitative", "title": null}, "y": {"field": "y", "type": "quantitative", "title": null}, "text": {"field": "t"}}
  },
  {
   "data": {"values": [{"x": 1.421, "y": -0.93, "t": "небольшой сквозняк (принудительный обдув)"}]},
   "mark": {"type": "text", "fontWeight": "bold", "fontSize": 13.5, "color": "#ffffff", "align": "center", "baseline": "middle"},
   "encoding": {"x": {"field": "x", "type": "quantitative", "title": null}, "y": {"field": "y", "type": "quantitative", "title": null}, "text": {"field": "t"}}
  },
  {
   "data": {"name": "orange"},
   "mark": {"type": "circle", "color": "#ed7d31", "opacity": 0.38, "size": 58},
   "encoding": {"x": {"field": "x", "type": "quantitative", "title": null}, "y": {"field": "y", "type": "quantitative", "title": null}}
  },
  {
   "data": {"name": "blue"},
   "mark": {"type": "circle", "color": "#5b9bd5", "opacity": 0.33, "size": 58},
   "encoding": {"x": {"field": "x", "type": "quantitative", "title": null}, "y": {"field": "y", "type": "quantitative", "title": null}}
  },
  {
   "data": {"name": "hlines"},
   "transform": [{"filter": "datum.k === 't5'"}],
   "mark": {"type": "rule", "color": "#595959", "strokeWidth": 2},
   "encoding": {"x": {"field": "x1", "type": "quantitative", "title": null}, "x2": {"field": "x2"}, "y": {"field": "y", "type": "quantitative", "title": null}}
  },
  {
   "data": {"name": "hlines"},
   "transform": [{"filter": "datum.k === 't10'"}],
   "mark": {"type": "rule", "color": "#808080", "strokeWidth": 2},
   "encoding": {"x": {"field": "x1", "type": "quantitative", "title": null}, "x2": {"field": "x2"}, "y": {"field": "y", "type": "quantitative", "title": null}}
  },
  {
   "data": {"name": "hlines"},
   "transform": [{"filter": "datum.k === 't30'"}],
   "mark": {"type": "rule", "color": "#a6a6a6", "strokeWidth": 2},
   "encoding": {"x": {"field": "x1", "type": "quantitative", "title": null}, "x2": {"field": "x2"}, "y": {"field": "y", "type": "quantitative", "title": null}}
  },
  {
   "data": {"name": "hlines"},
   "transform": [{"filter": "datum.k === 'etg'"}],
   "mark": {"type": "rule", "color": "#1e9e4a", "strokeWidth": 2},
   "encoding": {"x": {"field": "x1", "type": "quantitative", "title": null}, "x2": {"field": "x2"}, "y": {"field": "y", "type": "quantitative", "title": null}}
  },
  {
   "data": {"values": [{"x": 0.5, "y1": 0, "y2": 13}, {"x": 1.0, "y1": 0, "y2": 13}]},
   "mark": {"type": "rule", "color": "#2f2e82", "strokeWidth": 2},
   "encoding": {"x": {"field": "x", "type": "quantitative", "title": null}, "y": {"field": "y1", "type": "quantitative", "title": null}, "y2": {"field": "y2"}}
  },
  {
   "data": {"name": "curveOrange"},
   "mark": {"type": "line", "color": "#ed7d31", "strokeWidth": 2.3, "interpolate": "monotone"},
   "encoding": {"x": {"field": "x", "type": "quantitative", "title": null}, "y": {"field": "y", "type": "quantitative", "title": null}}
  },
  {
   "data": {"name": "curveBlue"},
   "mark": {"type": "line", "color": "#5b9bd5", "strokeWidth": 2.3, "interpolate": "monotone"},
   "encoding": {"x": {"field": "x", "type": "quantitative", "title": null}, "y": {"field": "y", "type": "quantitative", "title": null}}
  },
  {
   "data": {"name": "boxes"},
   "mark": {"type": "rect", "fill": "#ffffff"},
   "encoding": {"x": {"field": "x1", "type": "quantitative", "title": null}, "x2": {"field": "x2"}, "y": {"field": "y1", "type": "quantitative", "title": null}, "y2": {"field": "y2"}}
  },
  {
   "data": {"values": [{"x": 0.757, "y": 12.35, "t": "Область скорости аспирации\n0,5 - 1 м/с\nдля которой рассчитана стандартная\nпсихрометрическая таблица ВИТ"}]},
   "mark": {"type": "text", "fontWeight": "bold", "fontSize": 15, "color": "#302f84", "lineBreak": "\n", "lineHeight": 17.5, "align": "center", "baseline": "middle"},
   "encoding": {"x": {"field": "x", "type": "quantitative", "title": null}, "y": {"field": "y", "type": "quantitative", "title": null}, "text": {"field": "t"}}
  },
  {
   "data": {"values": [{"x": 1.539, "y": 8.07, "t": "пределы абсолютной\nдопускаемой погрешности ВИТ"}]},
   "mark": {"type": "text", "fontWeight": "bold", "fontSize": 15.5, "color": "#262626", "lineBreak": "\n", "lineHeight": 18, "align": "center", "baseline": "middle"},
   "encoding": {"x": {"field": "x", "type": "quantitative", "title": null}, "y": {"field": "y", "type": "quantitative", "title": null}, "text": {"field": "t"}}
  },
  {
   "data": {"values": [{"x": 1.545, "y": 7.0, "t": "при температуре от 5 до 10 С"}]},
   "mark": {"type": "text", "fontWeight": "bold", "fontSize": 15.5, "color": "#404040", "align": "center", "baseline": "middle"},
   "encoding": {"x": {"field": "x", "type": "quantitative", "title": null}, "y": {"field": "y", "type": "quantitative", "title": null}, "text": {"field": "t"}}
  },
  {
   "data": {"values": [{"x": 1.545, "y": 6.0, "t": "при температуре от 10 до 30 С"}]},
   "mark": {"type": "text", "fontWeight": "bold", "fontSize": 15.5, "color": "#7f7f7f", "align": "center", "baseline": "middle"},
   "encoding": {"x": {"field": "x", "type": "quantitative", "title": null}, "y": {"field": "y", "type": "quantitative", "title": null}, "text": {"field": "t"}}
  },
  {
   "data": {"values": [{"x": 1.545, "y": 5.0, "t": "при температуре от 30 до 40 С"}]},
   "mark": {"type": "text", "fontWeight": "bold", "fontSize": 15.5, "color": "#bdbdbd", "align": "center", "baseline": "middle"},
   "encoding": {"x": {"field": "x", "type": "quantitative", "title": null}, "y": {"field": "y", "type": "quantitative", "title": null}, "text": {"field": "t"}}
  },
  {
   "data": {"values": [{"x": 1.547, "y": 3.24, "t": "предел абсолютной\nдопускаемой погрешности\nэталонных ЭТГ"}]},
   "mark": {"type": "text", "fontWeight": "bold", "fontSize": 15.5, "color": "#1e9a48", "lineBreak": "\n", "lineHeight": 18, "align": "center", "baseline": "middle"},
   "encoding": {"x": {"field": "x", "type": "quantitative", "title": null}, "y": {"field": "y", "type": "quantitative", "title": null}, "text": {"field": "t"}}
  },
  {
   "data": {"values": [{"x": 0.309, "y": 8.94, "t": "|ΔRH| = f(v)"}]},
   "mark": {"type": "text", "fontStyle": "italic", "fontSize": 15, "color": "#5b9bd5", "align": "center", "baseline": "middle"},
   "encoding": {"x": {"field": "x", "type": "quantitative", "title": null}, "y": {"field": "y", "type": "quantitative", "title": null}, "text": {"field": "t"}}
  },
  {
   "data": {"values": [{"x": 0.309, "y": 8.64, "t": "Психрометрическая таблица\n0,5-1 м/с"}]},
   "mark": {"type": "text", "fontSize": 15, "color": "#5b9bd5", "lineBreak": "\n", "lineHeight": 17, "align": "center", "baseline": "middle"},
   "encoding": {"x": {"field": "x", "type": "quantitative", "title": null}, "y": {"field": "y", "type": "quantitative", "title": null}, "text": {"field": "t"}}
  },
  {
   "data": {"values": [{"x": 0.299, "y": 2.75, "t": "|ΔRH| = f(A(v))"}]},
   "mark": {"type": "text", "fontStyle": "italic", "fontSize": 15, "color": "#ed7d31", "align": "center", "baseline": "middle"},
   "encoding": {"x": {"field": "x", "type": "quantitative", "title": null}, "y": {"field": "y", "type": "quantitative", "title": null}, "text": {"field": "t"}}
  },
  {
   "data": {"values": [{"x": 0.299, "y": 2.45, "t": "Психрометрическая таблица,\nрассчитанная для каждой\nконкретной скорости аспирации"}]},
   "mark": {"type": "text", "fontSize": 15, "color": "#ed7d31", "lineBreak": "\n", "lineHeight": 19, "align": "center", "baseline": "middle"},
   "encoding": {"x": {"field": "x", "type": "quantitative", "title": null}, "y": {"field": "y", "type": "quantitative", "title": null}, "text": {"field": "t"}}
  },
  {
   "data": {"values": [{"x": 0.063, "y": 6.95, "t": "абсолютная разница показаний ВИТ и ЭТГ, % относительной влажности"}]},
   "mark": {"type": "text", "angle": 270, "fontStyle": "italic", "fontWeight": "bold", "fontSize": 15.5, "color": "#262626", "align": "center", "baseline": "middle"},
   "encoding": {"x": {"field": "x", "type": "quantitative", "title": null}, "y": {"field": "y", "type": "quantitative", "title": null}, "text": {"field": "t"}}
  },
  {
   "data": {"values": [{"x": 1.957, "y": 0.39, "t": "скорость аспирации, м/с"}]},
   "mark": {"type": "text", "fontStyle": "italic", "fontWeight": "bold", "fontSize": 15, "color": "#262626", "align": "right", "baseline": "middle"},
   "encoding": {"x": {"field": "x", "type": "quantitative", "title": null}, "y": {"field": "y", "type": "quantitative", "title": null}, "text": {"field": "t"}}
  },
  {
   "data": {"values": [{"x1": 0.288, "y1": 8.14, "x2": 0.1944, "y2": 7.303}]},
   "mark": {"type": "rule", "color": "#5b9bd5", "strokeWidth": 1.2},
   "encoding": {"x": {"field": "x1", "type": "quantitative", "title": null}, "y": {"field": "y1", "type": "quantitative", "title": null}, "x2": {"field": "x2"}, "y2": {"field": "y2"}}
  },
  {
   "data": {"values": [{"x": 0.1944, "y": 7.303}]},
   "mark": {"type": "point", "shape": "triangle", "filled": true, "color": "#5b9bd5", "opacity": 1, "size": 45, "angle": 226},
   "encoding": {"x": {"field": "x", "type": "quantitative", "title": null}, "y": {"field": "y", "type": "quantitative", "title": null}}
  },
  {
   "data": {"values": [{"x1": 0.291, "y1": 1.706, "x2": 0.2636, "y2": 1.323}]},
   "mark": {"type": "rule", "color": "#ed7d31", "strokeWidth": 1.2},
   "encoding": {"x": {"field": "x1", "type": "quantitative", "title": null}, "y": {"field": "y1", "type": "quantitative", "title": null}, "x2": {"field": "x2"}, "y2": {"field": "y2"}}
  },
  {
   "data": {"values": [{"x": 0.2636, "y": 1.323}]},
   "mark": {"type": "point", "shape": "triangle", "filled": true, "color": "#ed7d31", "opacity": 1, "size": 45, "angle": 214},
   "encoding": {"x": {"field": "x", "type": "quantitative", "title": null}, "y": {"field": "y", "type": "quantitative", "title": null}}
  }
 ]
}
